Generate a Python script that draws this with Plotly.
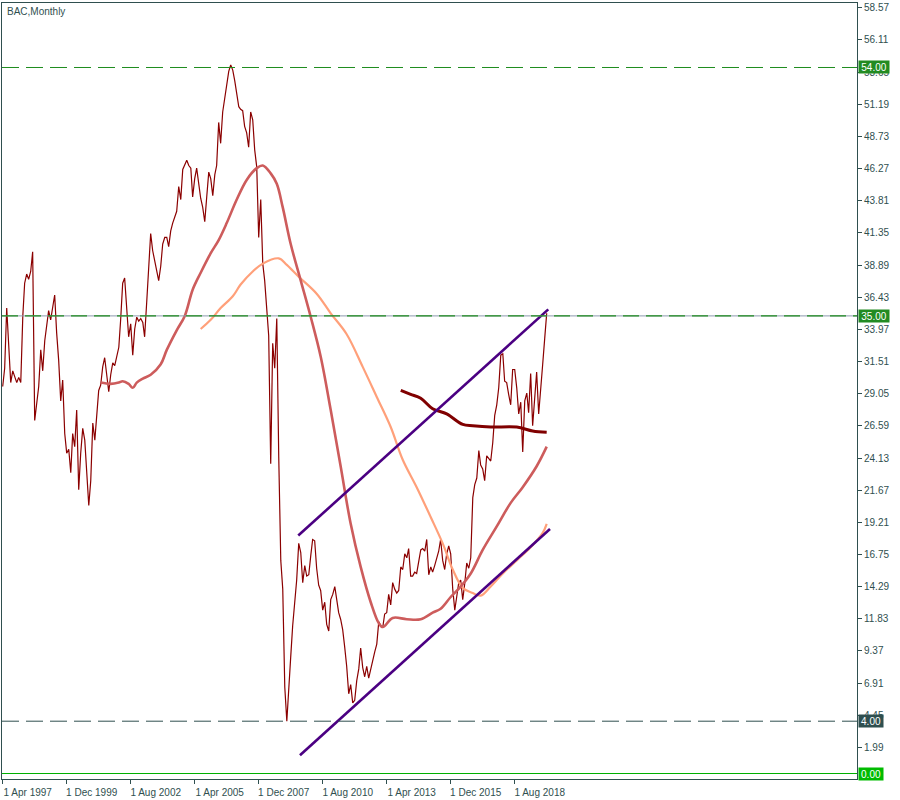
import pandas as pd
import plotly.graph_objects as go

# ---------------- data ----------------
chart_title = "BAC,Monthly"
first_month = "1997-04-01"

close_1997 = [29.6, 31.0, 35.6, 33.0, 29.9, 30.8, 30.3, 29.9, 30.3]
close_1998 = [29.9, 35.0, 37.5, 38.2, 37.8, 38.4, 39.9, 27.0, 28.3, 29.6, 32.4, 30.8]
close_1999 = [33.1, 34.4, 35.4, 34.7, 35.7, 36.6, 33.7, 31.6, 28.5, 30.1, 26.0, 24.5]
close_2000 = [24.8, 23.0, 26.0, 25.0, 27.8, 21.7, 24.5, 26.4, 25.5, 23.2, 20.5, 22.4]
close_2001 = [26.8, 25.5, 27.6, 29.3, 29.7, 31.1, 31.8, 30.3, 29.2, 30.5, 31.4, 31.2]
close_2002 = [31.9, 32.6, 34.7, 37.5, 37.9, 35.7, 33.4, 34.4, 32.0, 34.0, 34.9, 34.6]
close_2003 = [34.8, 34.5, 33.4, 36.0, 38.9, 41.3, 40.0, 39.3, 38.5, 37.7, 38.8, 40.5]
close_2004 = [41.0, 41.0, 40.3, 41.5, 42.1, 42.5, 43.0, 44.9, 43.9, 46.2, 46.5, 46.9]
close_2005 = [46.5, 46.3, 44.1, 45.5, 46.3, 44.9, 44.0, 43.3, 42.2, 44.1, 46.0, 45.5]
close_2006 = [44.2, 45.8, 46.5, 49.8, 48.2, 50.6, 51.5, 52.7, 53.7, 54.2, 53.8, 53.0]
close_2007 = [52.0, 51.0, 50.8, 50.7, 49.5, 49.0, 47.9, 50.6, 50.0, 47.7, 46.4, 41.0]
close_2008 = [43.9, 39.0, 37.7, 35.5, 33.5, 23.7, 32.9, 31.0, 34.8, 24.2, 16.3, 14.1]
close_2009 = [6.6, 4.0, 6.8, 8.9, 11.3, 13.2, 14.8, 17.6, 16.9, 14.6, 15.9, 15.1]
close_2010 = [15.2, 16.7, 17.9, 17.8, 15.7, 14.4, 14.0, 12.5, 13.1, 11.4, 10.9, 13.3]
close_2011 = [13.7, 14.3, 13.3, 12.3, 11.8, 11.0, 9.7, 8.2, 6.1, 6.8, 5.4, 5.6]
close_2012 = [7.1, 8.0, 9.6, 8.1, 7.4, 8.2, 7.3, 8.0, 8.8, 9.3, 9.9, 11.6]
close_2013 = [11.3, 11.2, 12.2, 12.3, 13.7, 12.9, 14.6, 14.1, 13.8, 14.0, 15.8, 15.6]
close_2014 = [16.8, 16.5, 17.2, 15.1, 15.1, 15.4, 15.3, 16.1, 17.1, 17.2, 17.0, 17.9]
close_2015 = [15.2, 15.8, 15.4, 15.9, 16.5, 17.0, 17.9, 16.3, 15.6, 16.8, 17.4, 16.8]
close_2016 = [14.1, 12.5, 13.5, 14.6, 14.8, 13.3, 14.5, 16.1, 15.7, 16.5, 21.1, 22.1]
close_2017 = [22.6, 24.7, 23.6, 23.3, 22.4, 24.3, 24.1, 23.9, 25.3, 27.4, 28.2, 29.5]
close_2018 = [32.0, 32.1, 30.0, 29.9, 29.0, 28.2, 30.9, 30.9, 29.5, 27.5, 28.4, 24.6]
close_2019 = [28.5, 29.1, 27.6, 30.6, 26.6, 29.0, 30.7, 27.5, 29.2, 31.3, 33.3, 35.2]

ma50_dates = ["2001-05-01", "2001-10-01", "2002-02-01", "2002-04-01", "2002-07-01",
              "2002-09-01", "2002-11-01", "2003-02-01", "2003-06-01", "2003-11-01",
              "2004-02-01", "2004-07-01", "2004-11-01", "2005-03-01", "2005-07-01",
              "2005-12-01", "2006-04-01", "2006-08-01", "2007-01-01", "2007-06-01",
              "2007-11-01", "2008-02-01", "2008-06-01", "2008-09-01", "2008-12-01",
              "2009-04-01", "2009-09-01", "2010-02-01", "2010-07-01", "2010-12-01",
              "2011-05-01", "2011-10-01", "2012-03-01", "2012-08-01", "2012-12-01",
              "2013-02-01", "2013-07-01", "2014-02-01", "2014-09-01", "2015-03-01",
              "2015-07-01", "2015-12-01", "2016-05-01", "2016-10-01", "2017-04-01",
              "2017-11-01", "2018-06-01", "2018-12-01", "2019-07-01", "2019-12-01"]
ma50_vals = [29.9, 29.8, 29.9, 30.0, 29.8,
             29.5, 29.9, 30.2, 30.5, 31.3,
             32.4, 33.9, 35.0, 37.0, 38.3,
             39.8, 40.8, 42.1, 43.9, 45.4,
             46.3, 46.5, 45.9, 45.1, 43.3,
             40.5, 37.7, 34.9, 31.9, 27.8,
             23.5, 19.1, 15.8, 13.1, 11.5,
             11.2, 11.9, 11.8, 11.8, 12.3,
             12.6, 13.5, 14.3, 15.3, 17.1,
             18.9, 20.7, 21.9, 23.5, 25.0]

ma100_dates = ["2005-07-01", "2005-12-01", "2006-05-01", "2006-11-01", "2007-03-01",
               "2007-09-01", "2008-02-01", "2008-10-01", "2009-02-01", "2009-08-01",
               "2010-05-01", "2010-12-01", "2011-08-01", "2012-04-01", "2012-11-01",
               "2013-06-01", "2013-12-01", "2014-07-01", "2015-02-01", "2015-08-01",
               "2016-01-01", "2016-06-01", "2016-11-01", "2017-03-01", "2017-08-01",
               "2018-02-01", "2018-09-01", "2019-04-01", "2019-10-01", "2019-12-01"]
ma100_vals = [34.0, 34.7, 35.6, 36.5, 37.4,
              38.4, 39.0, 39.4, 38.9, 38.0,
              36.7, 35.2, 33.6, 31.1, 28.8,
              26.5, 24.0, 21.9, 19.6, 17.6,
              15.6, 14.2, 13.8, 13.6, 14.3,
              15.3, 16.3, 17.3, 18.4, 19.1]

ma200_dates = ["2013-11-01", "2014-04-01", "2014-09-01", "2015-03-01", "2015-10-01",
               "2016-06-01", "2016-11-01", "2017-08-01", "2018-09-01", "2019-05-01",
               "2019-12-01"]
ma200_vals = [29.3, 29.0, 28.7, 27.9, 27.5, 26.7, 26.6, 26.5, 26.5, 26.2, 26.1]

trend_upper_dates = ["2009-07-25", "2019-12-25"]
trend_upper_vals = [18.2, 35.5]
trend_lower_dates = ["2009-08-20", "2020-01-20"]
trend_lower_vals = [1.4, 18.7]

level_top = 54.0
level_mid = 35.0
level_low = 4.0
level_zero = 0.0

y_tick_vals = [1.99, 4.45, 6.91, 9.37, 11.83, 14.29, 16.75, 19.21, 21.67, 24.13,
               26.59, 29.05, 31.51, 33.97, 36.43, 38.89, 41.35, 43.81, 46.27, 48.73,
               51.19, 53.65, 56.11, 58.57]
x_tick_dates = ["1997-04-01", "1999-12-01", "2002-08-01", "2005-04-01", "2007-12-01",
                "2010-08-01", "2013-04-01", "2015-12-01", "2018-08-01"]
x_tick_text = ["1 Apr 1997", "1 Dec 1999", "1 Aug 2002", "1 Apr 2005", "1 Dec 2007",
               "1 Aug 2010", "1 Apr 2013", "1 Dec 2015", "1 Aug 2018"]

# ---------------- build ----------------
close = (close_1997 + close_1998 + close_1999 + close_2000 + close_2001 + close_2002 +
         close_2003 + close_2004 + close_2005 + close_2006 + close_2007 + close_2008 +
         close_2009 + close_2010 + close_2011 + close_2012 + close_2013 + close_2014 +
         close_2015 + close_2016 + close_2017 + close_2018 + close_2019)
dates = pd.date_range(first_month, periods=len(close), freq="MS")

FONT = "Liberation Sans, Arial, sans-serif"
AX = "#2F4F4F"

fig = go.Figure()
fig.add_trace(go.Scatter(x=dates, y=close, mode="lines",
                         line=dict(color="#8B0000", width=1.2), hoverinfo="skip"))
fig.add_trace(go.Scatter(x=ma100_dates, y=ma100_vals, mode="lines", line_shape="spline",
                         line=dict(color="#FFA07A", width=2.2), hoverinfo="skip"))
fig.add_trace(go.Scatter(x=ma50_dates, y=ma50_vals, mode="lines", line_shape="spline",
                         line=dict(color="#CD5C5C", width=2.6), hoverinfo="skip"))
fig.add_trace(go.Scatter(x=ma200_dates, y=ma200_vals, mode="lines", line_shape="spline",
                         line=dict(color="#800000", width=3), hoverinfo="skip"))
fig.add_trace(go.Scatter(x=trend_upper_dates, y=trend_upper_vals, mode="lines",
                         line=dict(color="#4B0082", width=2.6), hoverinfo="skip"))
fig.add_trace(go.Scatter(x=trend_lower_dates, y=trend_lower_vals, mode="lines",
                         line=dict(color="#4B0082", width=2.6), hoverinfo="skip"))

GREEN = "#1E8C1E"
ZGREEN = "#00B000"
shapes = [
    dict(type="line", xref="paper", x0=0, x1=1, yref="y", y0=level_top, y1=level_top,
         line=dict(color=GREEN, width=1, dash="17px,7px")),
    dict(type="line", xref="paper", x0=0, x1=1, yref="y", y0=level_mid, y1=level_mid,
         line=dict(color="#8C9AAE", width=1)),
    dict(type="line", xref="paper", x0=0, x1=1, yref="y", y0=level_mid, y1=level_mid,
         line=dict(color=GREEN, width=1.2, dash="16px,7px")),
    dict(type="line", xref="paper", x0=0, x1=1, yref="y", y0=level_low, y1=level_low,
         line=dict(color=AX, width=1, dash="17px,7px")),
    dict(type="line", xref="paper", x0=0, x1=1, yref="y", y0=level_zero, y1=level_zero,
         line=dict(color=ZGREEN, width=1)),
]

def tag(value, bg, w):
    return dict(x=1, xref="paper", xanchor="left", xshift=1, y=value, yref="y",
                yanchor="middle", text=f"{value:.2f}", showarrow=False,
                bgcolor=bg, borderpad=0, width=w, height=12, align="center",
                font=dict(family=FONT, size=10, color="white"))

annotations = [
    tag(level_top, "#228B22", 30),
    tag(level_mid, "#228B22", 30),
    tag(level_low, AX, 24),
    tag(level_zero, "#00BB00", 24),
    dict(x=0, xref="paper", xanchor="left", xshift=3, y=1, yref="paper",
         yanchor="top", yshift=-1, text=chart_title, showarrow=False,
         font=dict(family=FONT, size=10, color=AX)),
]

x_left = pd.Timestamp(first_month) - pd.Timedelta(days=0.35 * 30.4375)
x_right = x_left + pd.Timedelta(days=855 / 2 * 30.4375)

fig.update_layout(
    template="none",
    width=900, height=800,
    margin=dict(l=2, r=43, t=3, b=21, pad=0),
    paper_bgcolor="white", plot_bgcolor="white",
    showlegend=False,
    shapes=shapes, annotations=annotations,
    font=dict(family=FONT, size=10, color=AX),
    xaxis=dict(type="date", range=[x_left, x_right], autorange=False,
               showgrid=False, zeroline=False, automargin=False,
               showline=True, linecolor=AX, linewidth=1, mirror=True,
               ticks="outside", ticklen=4, tickcolor=AX, tickwidth=1,
               tickvals=x_tick_dates, ticktext=x_tick_text, ticklabelshift=25,
               tickfont=dict(family=FONT, size=10, color=AX)),
    yaxis=dict(side="right", range=[-0.4207, 58.933], autorange=False,
               showgrid=False, zeroline=False, automargin=False,
               showline=True, linecolor=AX, linewidth=1, mirror=True,
               ticks="outside", ticklen=4, tickcolor=AX, tickwidth=1,
               tickvals=y_tick_vals, ticktext=[f"{v:.2f}" for v in y_tick_vals],
               tickfont=dict(family=FONT, size=10, color=AX)),
)

fig.write_html("out.html", config={"displayModeBar": False},
               post_script="document.body.style.margin='0px';document.body.style.overflow='hidden';")
